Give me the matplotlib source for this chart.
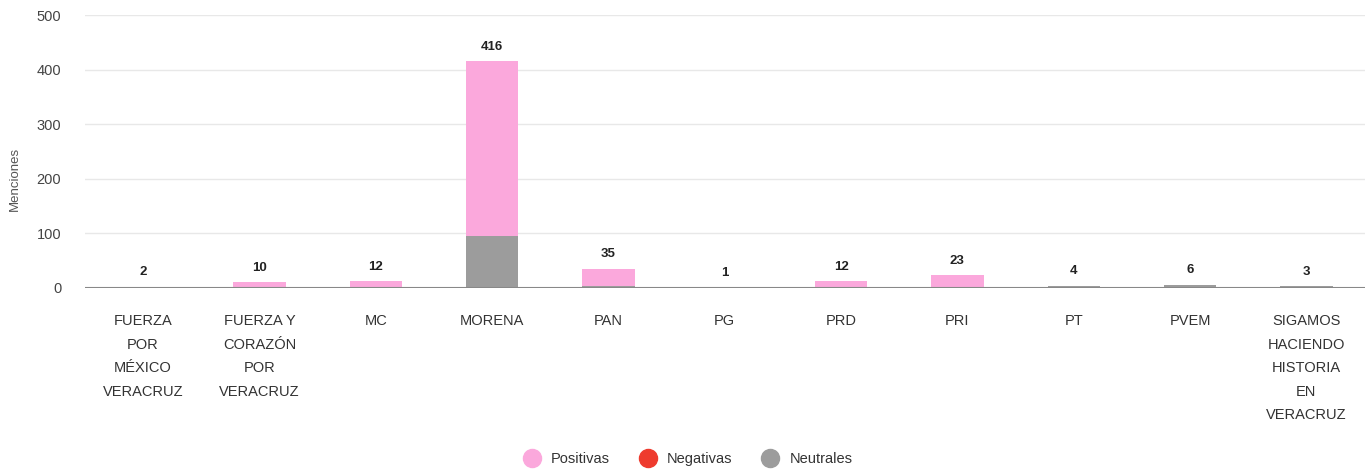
import numpy as np
import matplotlib.pyplot as plt
from matplotlib.lines import Line2D

plt.rcParams['font.family'] = ['Liberation Sans', 'DejaVu Sans']

categorias = ['FUERZA\nPOR\nMÉXICO\nVERACRUZ', 'FUERZA Y\nCORAZÓN\nPOR\nVERACRUZ', 'MC', 'MORENA',
              'PAN', 'PG', 'PRD', 'PRI', 'PT', 'PVEM',
              'SIGAMOS\nHACIENDO\nHISTORIA\nEN\nVERACRUZ']
positivas = [0, 10, 12, 320, 32, 0, 12, 23, 0, 0, 0]
negativas = [0, 0, 0, 0, 0, 0, 0, 0, 0, 0, 0]
neutrales = [2, 0, 0, 96, 3, 1, 0, 0, 4, 6, 3]

col_pos = '#fba8dc'
col_neg = '#ee3b2e'
col_neu = '#9c9c9c'

fig = plt.figure(figsize=(13.7, 4.72), dpi=100)
ax = fig.add_axes([0.062, 0.39, 0.934, 0.578])

x = np.arange(len(categorias))
pos = np.array(positivas)
neg = np.array(negativas)
neu = np.array(neutrales)
w = 0.45

ax.bar(x, neu, w, color=col_neu, zorder=3)
ax.bar(x, neg, w, bottom=neu, color=col_neg, zorder=3)
ax.bar(x, pos, w, bottom=neu + neg, color=col_pos, zorder=3)

# etiquetas con el total encima de cada barra
totales = pos + neg + neu
for xi, t in zip(x, totales):
    ax.annotate(str(t), (xi, t), xytext=(0, 6), textcoords='offset points',
                ha='center', va='bottom', fontsize=9.5, fontweight='bold', color='#222222')

ax.set_xlim(-0.5, len(categorias) - 0.5)
ax.set_ylim(0, 500)
ax.set_yticks([0, 100, 200, 300, 400, 500])
ax.yaxis.grid(True, color='#e8e8e8', linewidth=1, zorder=0)
ax.axhline(0, color='#888888', linewidth=1.5, zorder=4)
for s in ax.spines.values():
    s.set_visible(False)
ax.tick_params(axis='both', length=0)
ax.tick_params(axis='y', labelsize=10.5, colors='#444444', pad=17)
ax.set_xticks(x)
ax.set_xticklabels(categorias, fontsize=10.5, color='#333333', linespacing=1.86, va='top')
ax.tick_params(axis='x', pad=19)
ax.set_ylabel('Menciones', fontsize=9.5, color='#555555')
ax.yaxis.set_label_coords(-0.05, 0.4)

handles = [Line2D([], [], marker='o', linestyle='', markersize=13, color=c)
           for c in (col_pos, col_neg, col_neu)]
fig.legend(handles, ['Positivas', 'Negativas', 'Neutrales'], loc='center',
           bbox_to_anchor=(0.5, 0.027), ncol=3, frameon=False, fontsize=10.5,
           handletextpad=0.3, columnspacing=1.6, labelcolor='#333333')

fig.savefig('out.png', dpi=100)
